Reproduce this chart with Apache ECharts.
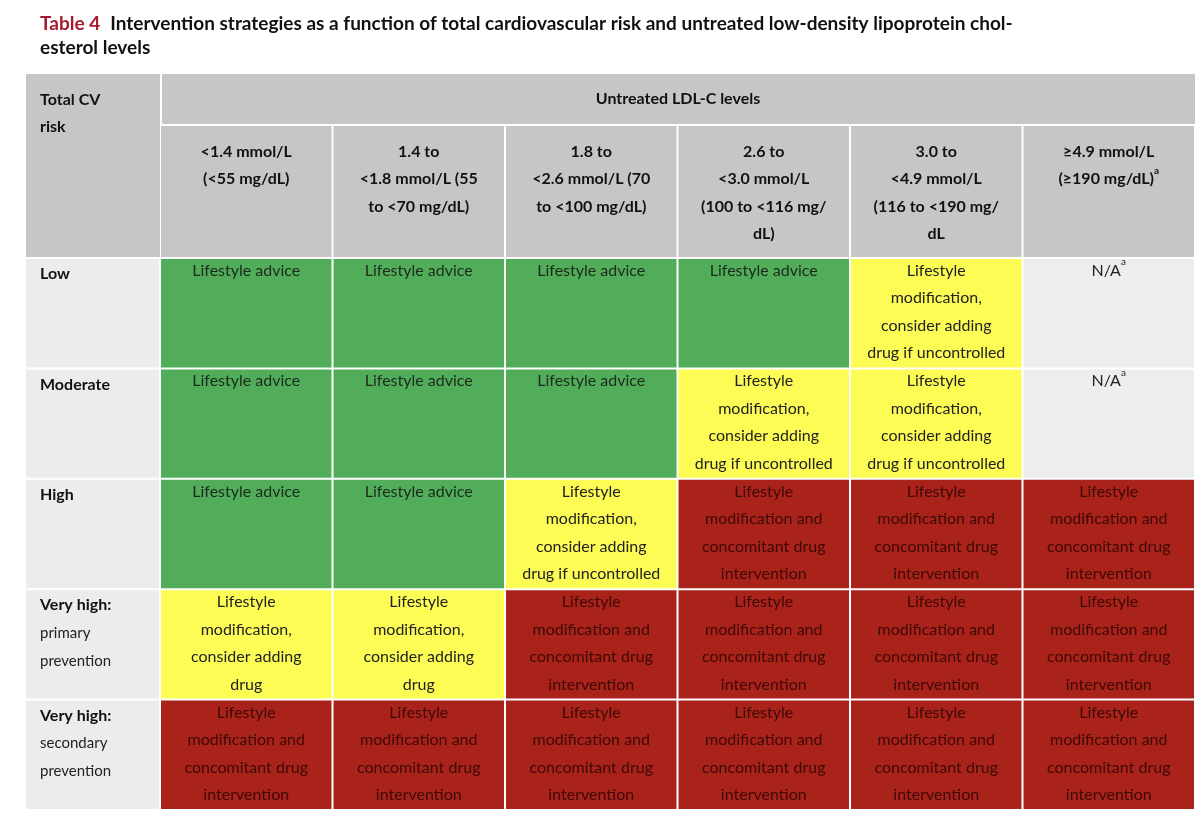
<!DOCTYPE html>
<html>
<head>
<meta charset="utf-8">
<script src="https://cdn.jsdelivr.net/npm/echarts@6/dist/echarts.min.js"></script>
<style>
  html, body { margin: 0; padding: 0; background: #fff; }
  #main { width: 1200px; height: 832px; }
</style>
</head>
<body>
<div id="main"></div>
<script>
// column headers (LDL-C levels)
var ldlLevels = [
  '<1.4 mmol/L\n(<55 mg/dL)',
  '1.4 to\n<1.8 mmol/L (55\nto <70 mg/dL)',
  '1.8 to\n<2.6 mmol/L (70\nto <100 mg/dL)',
  '2.6 to\n<3.0 mmol/L\n(100 to <116 mg/\ndL)',
  '3.0 to\n<4.9 mmol/L\n(116 to <190 mg/\ndL',
  '≥4.9 mmol/L\n(≥190 mg/dL){sup|a}'
];
// row headers (total CV risk)
var riskLevels = ['Low', 'Moderate', 'High', 'Very high:', 'Very high:'];
var riskSub = ['', '', '', 'primary\nprevention', 'secondary\nprevention'];

// cell category per row: 0 advice, 1 modification, 2 drug intervention, 3 N/A
var strategy = [
  [0, 0, 0, 0, 1, 3],
  [0, 0, 0, 1, 1, 3],
  [0, 0, 1, 2, 2, 2],
  [4, 4, 2, 2, 2, 2],
  [2, 2, 2, 2, 2, 2]
];
var strategyText = [
  'Lifestyle advice',
  'Lifestyle\nmodification,\nconsider adding\ndrug if uncontrolled',
  'Lifestyle\nmodification and\nconcomitant drug\nintervention',
  'N/A{sup|a}',
  'Lifestyle\nmodification,\nconsider adding\ndrug'
];
var strategyColor = ['#52ad5b', '#fdfc55', '#a9231b', '#eceded', '#fdfc55'];
var strategyInk = ['#1c2a1c', '#222', '#3e0906', '#222', '#222'];

var cellData = [];
strategy.forEach(function (row, r) {
  row.forEach(function (s, c) { cellData.push([c, r, s]); });
});

var FONT = 'Lato, "Open Sans", sans-serif';
var LEFT = 160, RIGHT = 5, TOP = 258, BOTTOM = 22;

var chart = echarts.init(document.getElementById('main'));

function rectOf(api, x, y) {
  var p = api.coord([x, y]);
  var s = api.size([1, 1]);
  return { x: p[0] - s[0] / 2, y: p[1] - s[1] / 2, w: s[0], h: s[1] };
}
var supRich = { sup: { fontSize: 10, verticalAlign: 'top', padding: [0, 0, 8, 0], fontFamily: FONT } };

chart.setOption({
  animation: false,
  grid: [
    { left: LEFT, right: RIGHT, top: TOP, bottom: BOTTOM },
    { left: 26, width: LEFT - 26, top: TOP, bottom: BOTTOM },
    { left: LEFT, right: RIGHT, top: 125, height: TOP - 125 }
  ],
  xAxis: [
    { gridIndex: 0, type: 'category', data: ldlLevels, show: false },
    { gridIndex: 1, type: 'category', data: ['risk'], show: false },
    { gridIndex: 2, type: 'category', data: ldlLevels, show: false }
  ],
  yAxis: [
    { gridIndex: 0, type: 'category', data: riskLevels, inverse: true, show: false },
    { gridIndex: 1, type: 'category', data: riskLevels, inverse: true, show: false },
    { gridIndex: 2, type: 'category', data: ['hdr'], show: false }
  ],
  graphic: [
    { type: 'text', left: 40, top: 14, style: {
      text: '{r|Table 4}   {b|Intervention strategies as a function of total cardiovascular risk and untreated low-density lipoprotein chol-}\n{b|esterol levels}',
      rich: {
        r: { fill: '#a6192e', fontSize: 19, fontWeight: 'bold', fontFamily: FONT, lineHeight: 24 },
        b: { fill: '#111', fontSize: 19, fontWeight: 'bold', fontFamily: FONT, lineHeight: 24 }
      } } },
    { type: 'rect', shape: { x: 26, y: 74, width: 134, height: 183 }, style: { fill: '#c6c6c8' } },
    { type: 'rect', shape: { x: 162, y: 74, width: 1033, height: 50 }, style: { fill: '#c6c6c8' } },
    { type: 'text', left: 40, top: 86, style: { text: 'Total CV\nrisk', fill: '#111',
      font: 'bold 16px ' + FONT, lineHeight: 27 } },
    { type: 'text', x: 678, y: 99, style: { text: 'Untreated LDL-C levels', fill: '#111',
      font: 'bold 16px ' + FONT, align: 'center', verticalAlign: 'middle' } }
  ],
  series: [
    {
      type: 'custom', xAxisIndex: 0, yAxisIndex: 0, data: cellData,
      renderItem: function (params, api) {
        var b = rectOf(api, api.value(0), api.value(1));
        var s = api.value(2);
        return { type: 'group', children: [
          { type: 'rect', shape: { x: b.x + 1, y: b.y + 1, width: b.w - 2, height: b.h - 2 },
            style: { fill: strategyColor[s] } },
          { type: 'text', x: b.x + b.w / 2, y: b.y - 1, style: {
            text: strategyText[s], fill: strategyInk[s], font: '16px ' + FONT,
            align: 'center', verticalAlign: 'top', lineHeight: 27.5, rich: supRich } }
        ] };
      }
    },
    {
      type: 'custom', xAxisIndex: 1, yAxisIndex: 1,
      data: riskLevels.map(function (n, i) { return [0, i]; }),
      renderItem: function (params, api) {
        var i = api.value(1);
        var b = rectOf(api, 0, i);
        return { type: 'group', children: [
          { type: 'rect', shape: { x: b.x, y: b.y + 1, width: b.w - 1, height: b.h - 2 },
            style: { fill: '#ebeded' } },
          { type: 'text', x: b.x + 14, y: b.y + 2, style: {
            text: '{h|' + riskLevels[i] + '}' + (riskSub[i] ? '\n{s|' + riskSub[i].split('\n').join('}\n{s|') + '}' : ''),
            verticalAlign: 'top',
            rich: {
              h: { font: 'bold 16px ' + FONT, fill: '#111', lineHeight: 28 },
              s: { font: '15px ' + FONT, fill: '#222', lineHeight: 28 }
            } } }
        ] };
      }
    },
    {
      type: 'custom', xAxisIndex: 2, yAxisIndex: 2,
      data: ldlLevels.map(function (n, i) { return [i, 0]; }),
      renderItem: function (params, api) {
        var c = api.value(0);
        var b = rectOf(api, c, 0);
        return { type: 'group', children: [
          { type: 'rect', shape: { x: b.x + 1, y: b.y + 1, width: b.w - 2, height: b.h - 2 },
            style: { fill: '#c6c6c8' } },
          { type: 'text', x: b.x + b.w / 2, y: b.y + 13, style: {
            text: ldlLevels[c], fill: '#111', font: 'bold 16px ' + FONT,
            align: 'center', verticalAlign: 'top', lineHeight: 27.5,
            rich: { sup: { fontSize: 10, fontWeight: 'bold', verticalAlign: 'top', padding: [0, 0, 8, 0], fontFamily: FONT } } } }
        ] };
      }
    }
  ]
});
</script>
</body>
</html>
